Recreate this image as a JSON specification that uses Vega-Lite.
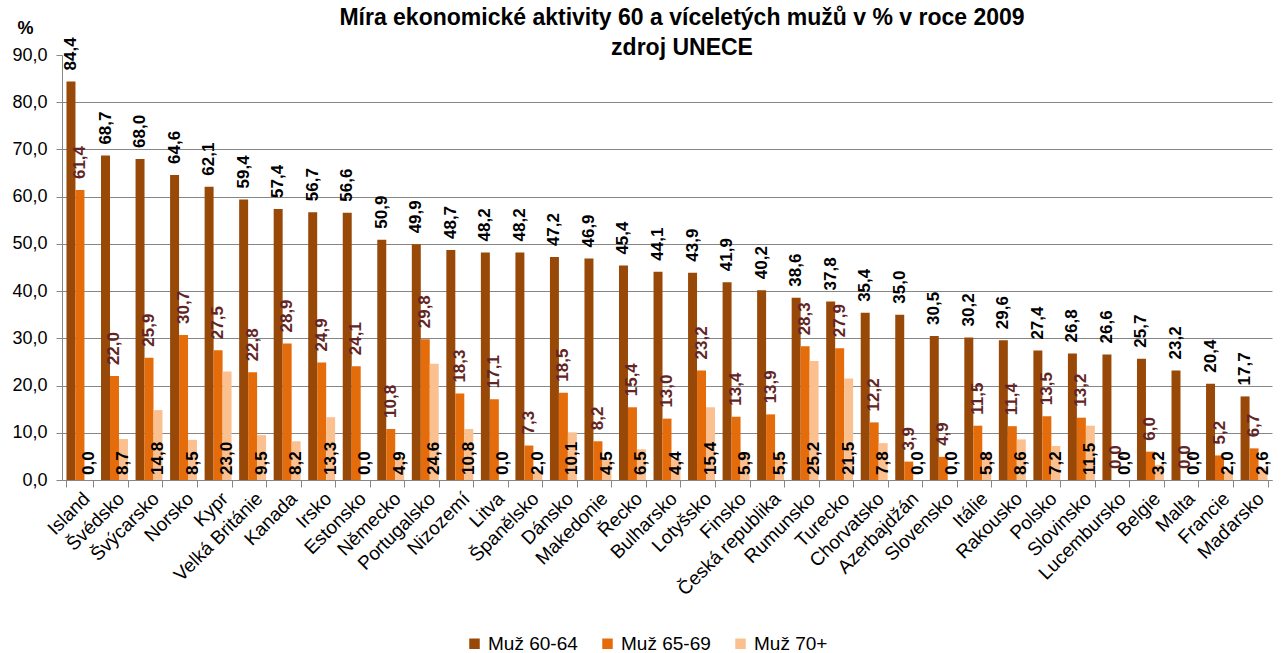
{
  "$schema": "https://vega.github.io/schema/vega-lite/v6.json",
  "autosize": {"type": "none"},
  "padding": {"left": 62, "top": 55, "right": 10, "bottom": 173},
  "width": 1210,
  "height": 425,
  "background": "white",
  "title": {
    "text": ["Míra ekonomické aktivity  60 a víceletých mužů v % v roce 2009", "zdroj UNECE"],
    "font": "Liberation Sans",
    "fontSize": 23,
    "fontWeight": "bold",
    "color": "black",
    "lineHeight": 30,
    "anchor": "middle",
    "frame": "group",
    "offset": 0,
    "dy": 41,
    "dx": 15
  },
  "data": {
    "values": [
      {"country": "Island", "Muž 60-64": 84.4, "Muž 65-69": 61.4, "Muž 70+": 0.0},
      {"country": "Švédsko", "Muž 60-64": 68.7, "Muž 65-69": 22.0, "Muž 70+": 8.7},
      {"country": "Švýcarsko", "Muž 60-64": 68.0, "Muž 65-69": 25.9, "Muž 70+": 14.8},
      {"country": "Norsko", "Muž 60-64": 64.6, "Muž 65-69": 30.7, "Muž 70+": 8.5},
      {"country": "Kypr", "Muž 60-64": 62.1, "Muž 65-69": 27.5, "Muž 70+": 23.0},
      {"country": "Velká Británie", "Muž 60-64": 59.4, "Muž 65-69": 22.8, "Muž 70+": 9.5},
      {"country": "Kanada", "Muž 60-64": 57.4, "Muž 65-69": 28.9, "Muž 70+": 8.2},
      {"country": "Irsko", "Muž 60-64": 56.7, "Muž 65-69": 24.9, "Muž 70+": 13.3},
      {"country": "Estonsko", "Muž 60-64": 56.6, "Muž 65-69": 24.1, "Muž 70+": 0.0},
      {"country": "Německo", "Muž 60-64": 50.9, "Muž 65-69": 10.8, "Muž 70+": 4.9},
      {"country": "Portugalsko", "Muž 60-64": 49.9, "Muž 65-69": 29.8, "Muž 70+": 24.6},
      {"country": "Nizozemí", "Muž 60-64": 48.7, "Muž 65-69": 18.3, "Muž 70+": 10.8},
      {"country": "Litva", "Muž 60-64": 48.2, "Muž 65-69": 17.1, "Muž 70+": 0.0},
      {"country": "Španělsko", "Muž 60-64": 48.2, "Muž 65-69": 7.3, "Muž 70+": 2.0},
      {"country": "Dánsko", "Muž 60-64": 47.2, "Muž 65-69": 18.5, "Muž 70+": 10.1},
      {"country": "Makedonie", "Muž 60-64": 46.9, "Muž 65-69": 8.2, "Muž 70+": 4.5},
      {"country": "Řecko", "Muž 60-64": 45.4, "Muž 65-69": 15.4, "Muž 70+": 6.5},
      {"country": "Bulharsko", "Muž 60-64": 44.1, "Muž 65-69": 13.0, "Muž 70+": 4.4},
      {"country": "Lotyšsko", "Muž 60-64": 43.9, "Muž 65-69": 23.2, "Muž 70+": 15.4},
      {"country": "Finsko", "Muž 60-64": 41.9, "Muž 65-69": 13.4, "Muž 70+": 5.9},
      {"country": "Česká republika", "Muž 60-64": 40.2, "Muž 65-69": 13.9, "Muž 70+": 5.5},
      {"country": "Rumunsko", "Muž 60-64": 38.6, "Muž 65-69": 28.3, "Muž 70+": 25.2},
      {"country": "Turecko", "Muž 60-64": 37.8, "Muž 65-69": 27.9, "Muž 70+": 21.5},
      {"country": "Chorvatsko", "Muž 60-64": 35.4, "Muž 65-69": 12.2, "Muž 70+": 7.8},
      {"country": "Azerbajdžán", "Muž 60-64": 35.0, "Muž 65-69": 3.9, "Muž 70+": 0.0},
      {"country": "Slovensko", "Muž 60-64": 30.5, "Muž 65-69": 4.9, "Muž 70+": 0.0},
      {"country": "Itálie", "Muž 60-64": 30.2, "Muž 65-69": 11.5, "Muž 70+": 5.8},
      {"country": "Rakousko", "Muž 60-64": 29.6, "Muž 65-69": 11.4, "Muž 70+": 8.6},
      {"country": "Polsko", "Muž 60-64": 27.4, "Muž 65-69": 13.5, "Muž 70+": 7.2},
      {"country": "Slovinsko", "Muž 60-64": 26.8, "Muž 65-69": 13.2, "Muž 70+": 11.5},
      {"country": "Lucembursko", "Muž 60-64": 26.6, "Muž 65-69": 0.0, "Muž 70+": 0.0},
      {"country": "Belgie", "Muž 60-64": 25.7, "Muž 65-69": 6.0, "Muž 70+": 3.2},
      {"country": "Malta", "Muž 60-64": 23.2, "Muž 65-69": 0.0, "Muž 70+": 0.0},
      {"country": "Francie", "Muž 60-64": 20.4, "Muž 65-69": 5.2, "Muž 70+": 2.0},
      {"country": "Maďarsko", "Muž 60-64": 17.7, "Muž 65-69": 6.7, "Muž 70+": 2.6}
    ]
  },
  "transform": [
    {"fold": ["Muž 60-64", "Muž 65-69", "Muž 70+"], "as": ["series", "value"]}
  ],
  "encoding": {
    "x": {
      "field": "country",
      "type": "nominal",
      "sort": null,
      "scale": {"paddingInner": 0.22, "paddingOuter": 0.13},
      "axis": {
        "title": null,
        "labelAngle": -45,
        "labelFont": "Liberation Sans",
        "labelFontSize": 19,
        "labelColor": "black",
        "labelPadding": 2,
        "tickBand": "extent",
        "tickSize": 7,
        "tickColor": "#868686",
        "domainColor": "#868686",
        "labelOverlap": false
      }
    },
    "xOffset": {
      "field": "series",
      "type": "nominal",
      "scale": {"domain": ["Muž 60-64", "Muž 65-69", "Muž 70+"], "paddingInner": 0, "paddingOuter": 0}
    }
  },
  "layer": [
    {
      "mark": {"type": "bar"},
      "encoding": {
        "y": {
          "field": "value",
          "type": "quantitative",
          "scale": {"domain": [0, 90], "nice": false},
          "axis": {
            "values": [0, 10, 20, 30, 40, 50, 60, 70, 80, 90],
            "labelExpr": "replace(format(datum.value, '.1f'), '.', ',')",
            "labelFont": "Liberation Sans",
            "labelFontSize": 18,
            "labelColor": "black",
            "labelPadding": 9,
            "tickSize": 6,
            "tickColor": "#868686",
            "domainColor": "#868686",
            "gridColor": {"condition": {"test": "datum.value === 90", "value": "transparent"}, "value": "#868686"},
            "title": "%",
            "titleAngle": 0,
            "titleAlign": "left",
            "titleBaseline": "middle",
            "titleX": -45,
            "titleY": -27,
            "titleFont": "Liberation Sans",
            "titleFontSize": 18,
            "titleFontWeight": "bold",
            "titleColor": "black"
          }
        },
        "color": {
          "field": "series",
          "type": "nominal",
          "scale": {"domain": ["Muž 60-64", "Muž 65-69", "Muž 70+"], "range": ["#984807", "#E46C0A", "#FAC090"]},
          "legend": {
            "title": null,
            "orient": "none",
            "legendX": 403,
            "legendY": 579,
            "direction": "horizontal",
            "symbolType": "square",
            "symbolSize": 110,
            "symbolStrokeWidth": 0,
            "labelFont": "Liberation Sans",
            "labelFontSize": 19,
            "labelColor": "black",
            "labelOffset": 4,
            "columnPadding": 20
          }
        }
      }
    },
    {
      "transform": [{"filter": "datum.series === 'Muž 60-64'"}],
      "mark": {"type": "text", "angle": 270, "align": "left", "baseline": "middle", "dx": 11, "font": "Liberation Sans", "fontSize": 17, "fontWeight": "bold", "color": "black"},
      "encoding": {
        "y": {"field": "value", "type": "quantitative"},
        "text": {"field": "value", "type": "quantitative", "format": ".1f"}
      }
    },
    {
      "transform": [{"filter": "datum.series === 'Muž 65-69'"}],
      "mark": {"type": "text", "angle": 270, "align": "left", "baseline": "middle", "dx": 11, "font": "Liberation Sans", "fontSize": 17, "fontWeight": "bold", "color": "#632523"},
      "encoding": {
        "y": {"field": "value", "type": "quantitative"},
        "text": {"field": "value", "type": "quantitative", "format": ".1f"}
      }
    },
    {
      "transform": [{"filter": "datum.series === 'Muž 70+'"}],
      "mark": {"type": "text", "angle": 270, "align": "left", "baseline": "middle", "dx": 5, "font": "Liberation Sans", "fontSize": 17, "fontWeight": "bold", "color": "black"},
      "encoding": {
        "y": {"datum": 0, "type": "quantitative"},
        "text": {"field": "value", "type": "quantitative", "format": ".1f"}
      }
    }
  ],
  "config": {
    "view": {"stroke": null},
    "locale": {"number": {"decimal": ",", "thousands": " ", "grouping": [3], "currency": ["", ""]}}
  }
}
